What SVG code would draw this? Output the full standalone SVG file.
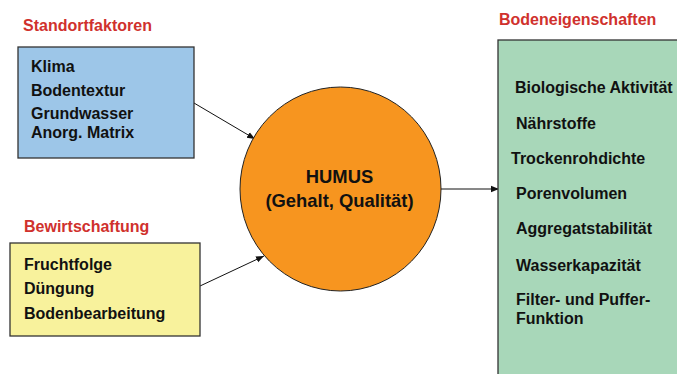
<svg xmlns="http://www.w3.org/2000/svg" width="677" height="374" viewBox="0 0 677 374">
<style>
text{font-family:"Liberation Sans",Arial,sans-serif;font-weight:bold;font-size:16px;fill:#111}
.h{fill:#d0312d}
.c{font-size:18.4px;text-anchor:middle}
.box{stroke:#333;stroke-width:1.3}
.con{stroke:#111;stroke-width:1;fill:none}
</style>
<defs>
<marker id="ah" viewBox="0 0 10 10" refX="10" refY="5" markerWidth="8" markerHeight="8" markerUnits="userSpaceOnUse" orient="auto">
<path d="M0,1 L10,5 L0,9 Z" fill="#111"/>
</marker>
</defs>
<rect width="677" height="374" fill="#fff"/>
<g id="connectors">
<line class="con" x1="194" y1="103" x2="255" y2="139" marker-end="url(#ah)"/>
<line class="con" x1="200" y1="286" x2="264" y2="256" marker-end="url(#ah)"/>
<line class="con" x1="441" y1="189" x2="499" y2="189" marker-end="url(#ah)"/>
</g>
<g id="standortfaktoren">
<text class="h" x="23" y="31">Standortfaktoren</text>
<rect class="box" x="18" y="47" width="176" height="111" fill="#9dc6e8"/>
<text x="31" y="72">Klima</text>
<text x="31" y="96">Bodentextur</text>
<text x="31" y="119">Grundwasser</text>
<text x="31" y="138">Anorg. Matrix</text>
</g>
<g id="bewirtschaftung">
<text class="h" x="24" y="232">Bewirtschaftung</text>
<rect class="box" x="10" y="243" width="190" height="93" fill="#f8f29c"/>
<text x="24" y="270">Fruchtfolge</text>
<text x="24" y="294">Düngung</text>
<text x="24" y="319">Bodenbearbeitung</text>
</g>
<g id="humus">
<ellipse cx="340.5" cy="189" rx="100.5" ry="102" fill="#f7951f" stroke="#222" stroke-width="1"/>
<text class="c" x="339.5" y="183">HUMUS</text>
<text class="c" x="339.5" y="207">(Gehalt, Qualität)</text>
</g>
<g id="bodeneigenschaften">
<text class="h" x="499" y="25">Bodeneigenschaften</text>
<rect class="box" x="498" y="40" width="190" height="345" fill="#a8d7b9"/>
<text x="515" y="93">Biologische Aktivität</text>
<text x="516" y="129">Nährstoffe</text>
<text x="511" y="164">Trockenrohdichte</text>
<text x="516" y="199">Porenvolumen</text>
<text x="516" y="234">Aggregatstabilität</text>
<text x="516" y="271">Wasserkapazität</text>
<text x="516" y="305">Filter- und Puffer-</text>
<text x="516" y="324">Funktion</text>
</g>
</svg>
